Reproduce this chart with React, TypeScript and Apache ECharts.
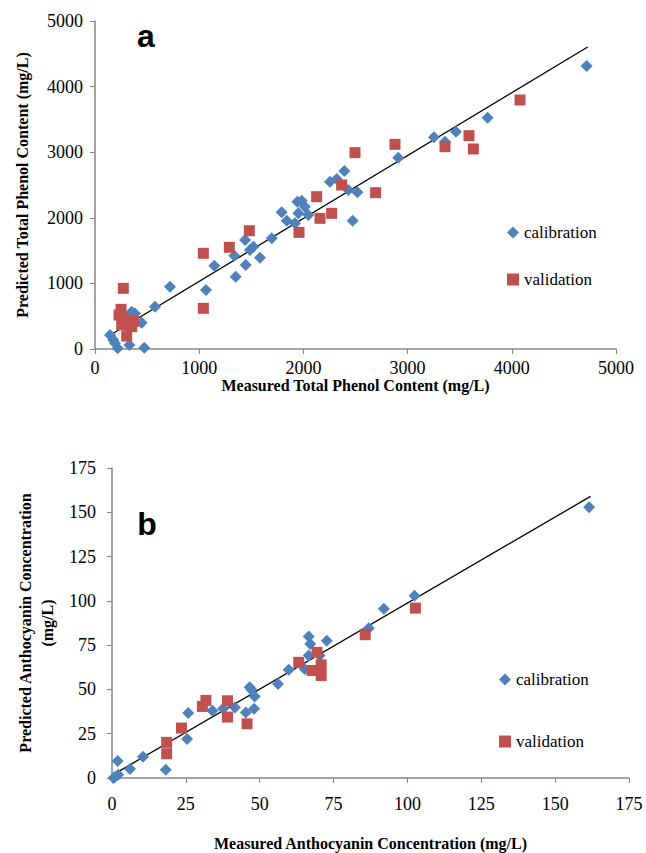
import React, { useEffect, useRef } from "react";
import * as echarts from "echarts";

// ---- Panel a: Total Phenol Content (mg/L) ----
const phenolCalibration: number[][] = [
  [144, 213], [176, 137], [218, 10], [192, 87], [330, 61], [473, 20], [448, 401], [352, 569],
  [384, 543], [300, 480], [576, 645], [720, 950], [1065, 900], [1145, 1270], [1350, 1100],
  [1337, 1422], [1440, 1662], [1446, 1280], [1487, 1509], [1520, 1560], [1583, 1392],
  [1696, 1687], [1791, 2083], [1840, 1956], [1942, 2245], [1984, 2261], [2015, 2170],
  [1951, 2068], [2047, 2043], [1919, 1916], [2255, 2550], [2320, 2590], [2393, 2713],
  [2431, 2424], [2518, 2389], [2473, 1956], [2911, 2916], [3253, 3227], [3359, 3160],
  [3464, 3313], [3768, 3526], [4718, 4314],
];
const phenolValidation: number[][] = [
  [272, 925], [250, 605], [230, 518], [320, 442], [256, 366], [352, 340], [304, 198], [370, 420],
  [1040, 1459], [1040, 620], [1289, 1550], [1481, 1803], [1958, 1778], [2127, 2322],
  [2159, 1992], [2271, 2068], [2367, 2500], [2495, 2993], [2693, 2383], [2879, 3120],
  [3359, 3084], [3589, 3252], [3631, 3049], [4079, 3796],
];
const phenolTrend: number[][] = [[163, 229], [4728, 4604]];

// ---- Panel b: Anthocyanin Concentration (mg/L) ----
const anthoCalibration: number[][] = [
  [0.5, 0], [1, 0.5], [1.9, 9.6], [2.1, 1.9], [6.1, 5.1], [10.5, 12], [18.2, 4.7], [25.8, 36.7],
  [25.4, 22], [34, 38], [37.6, 39.1], [41.6, 39.8], [45.3, 37], [46.6, 51.3], [47.2, 49.8],
  [48.1, 39.1], [48.3, 46], [56.2, 53], [59.8, 61.1], [65.2, 61.5], [66.6, 79.9], [67.1, 75.6],
  [66.6, 69.2], [70.3, 69.2], [72.7, 77.5], [86.9, 84.6], [92, 95.5], [102.4, 102.9],
  [161.5, 152.9],
];
const anthoValidation: number[][] = [
  [18.5, 20.1], [18.5, 13.7], [23.5, 28.2], [31.8, 43.8], [30.6, 40.4], [39.1, 43.6],
  [39.1, 34.4], [45.7, 30.6], [63.2, 65.3], [69.4, 70.9], [67.7, 60.7], [70.8, 63.9],
  [70.8, 57.9], [85.7, 80.9], [102.7, 95.9],
];
const anthoTrend: number[][] = [[0, 1.5], [162, 159]];

const seriesNames = ["calibration", "validation"];
const panelLabels = ["a", "b"];
const xTitles = ["Measured Total Phenol Content (mg/L)", "Measured Anthocyanin Concentration (mg/L)"];
const yTitles = ["Predicted Total Phenol Content (mg/L)", "Predicted Anthocyanin Concentration\n(mg/L)"];

const BLUE = "#4F81BD";
const RED = "#C0504D";
const AXIS = "#868686";
const SERIF = "Liberation Serif, Times New Roman, serif";

function axisBase(gridIndex: number, min: number, max: number, interval: number, labelMargin: number) {
  return {
    gridIndex,
    type: "value",
    min,
    max,
    interval,
    splitLine: { show: false },
    axisLine: { show: true, onZero: false, lineStyle: { color: AXIS, width: 1.5 } },
    axisTick: { show: true, inside: false, length: 5, lineStyle: { color: AXIS, width: 1 } },
    axisLabel: {
      margin: labelMargin,
      color: "#000",
      fontFamily: SERIF,
      fontSize: 18,
      formatter: (v: number) => String(v),
    },
    nameTextStyle: { color: "#000", fontFamily: SERIF, fontSize: 16, fontWeight: "bold" },
  };
}

export default function App() {
  const ref = useRef<HTMLDivElement>(null);
  useEffect(() => {
    if (!ref.current) return;
    const chart = echarts.init(ref.current, undefined, { renderer: "svg" });
    const scatter = (name: string, data: number[][], idx: number, color: string, symbol: string, size: number) => ({
      name,
      type: "scatter",
      xAxisIndex: idx,
      yAxisIndex: idx,
      data,
      symbol,
      symbolSize: size,
      itemStyle: { color, opacity: 1 },
    });
    const trend = (data: number[][], idx: number) => ({
      type: "line",
      xAxisIndex: idx,
      yAxisIndex: idx,
      data,
      symbol: "none",
      lineStyle: { color: "#000", width: 1.3 },
      silent: true,
      z: 1,
    });
    chart.setOption({
      animation: false,
      backgroundColor: "#fff",
      textStyle: { fontFamily: SERIF },
      grid: [
        { left: 95, top: 21, width: 521, height: 328 },
        { left: 112, top: 468, width: 517, height: 310 },
      ],
      xAxis: [
        { ...axisBase(0, 0, 5000, 1000, 10), name: xTitles[0], nameLocation: "middle", nameGap: 28 },
        { ...axisBase(1, 0, 175, 25, 17), name: xTitles[1], nameLocation: "middle", nameGap: 57 },
      ],
      yAxis: [
        { ...axisBase(0, 0, 5000, 1000, 12), name: yTitles[0], nameLocation: "middle", nameGap: 65 },
        {
          ...axisBase(1, 0, 175, 25, 16),
          name: yTitles[1],
          nameLocation: "middle",
          nameGap: 52,
          nameTextStyle: { color: "#000", fontFamily: SERIF, fontSize: 16, fontWeight: "bold", lineHeight: 22 },
        },
      ],
      legend: [
        {
          data: seriesNames,
          orient: "vertical",
          left: 507,
          top: 224,
          padding: 0,
          itemWidth: 12,
          itemHeight: 12,
          itemGap: 30,
          textStyle: { color: "#000", fontFamily: SERIF, fontSize: 17 },
          selectedMode: false,
        },
        {
          data: seriesNames,
          orient: "vertical",
          left: 499,
          top: 671,
          padding: 0,
          itemWidth: 12,
          itemHeight: 12,
          itemGap: 45,
          textStyle: { color: "#000", fontFamily: SERIF, fontSize: 17 },
          selectedMode: false,
        },
      ],
      graphic: [
        {
          type: "text",
          x: 146,
          y: 36,
          style: {
            text: panelLabels[0],
            font: "bold 32px 'Liberation Sans', Arial, sans-serif",
            fill: "#000",
            textAlign: "center",
            textVerticalAlign: "middle",
          },
        },
        {
          type: "text",
          x: 147,
          y: 524,
          style: {
            text: panelLabels[1],
            font: "bold 32px 'Liberation Sans', Arial, sans-serif",
            fill: "#000",
            textAlign: "center",
            textVerticalAlign: "middle",
          },
        },
      ],
      series: [
        trend(phenolTrend, 0),
        scatter(seriesNames[0], phenolCalibration, 0, BLUE, "diamond", 12),
        scatter(seriesNames[1], phenolValidation, 0, RED, "rect", 11),
        trend(anthoTrend, 1),
        scatter(seriesNames[0], anthoCalibration, 1, BLUE, "diamond", 12),
        scatter(seriesNames[1], anthoValidation, 1, RED, "rect", 11),
      ],
    });
    return () => chart.dispose();
  }, []);
  return (
    <div
      ref={ref}
      style={{ position: "absolute", left: 0, top: 0, width: 646, height: 853, background: "#fff" }}
    />
  );
}
